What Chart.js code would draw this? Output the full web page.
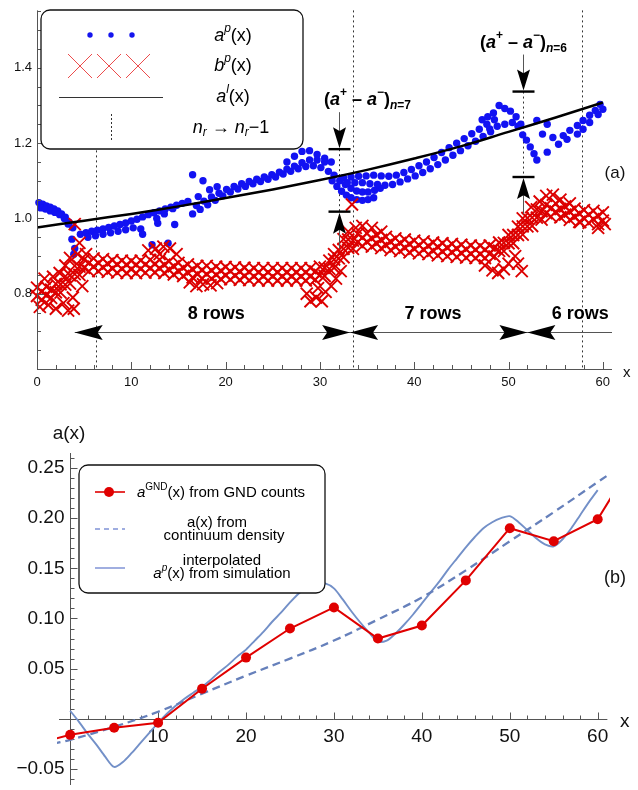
<!DOCTYPE html>
<html>
<head>
<meta charset="utf-8">
<script src="https://cdn.jsdelivr.net/npm/chart.js@4.4.1/dist/chart.umd.min.js"></script>
<style>
  html, body { margin: 0; padding: 0; background: #fff; }
  .panel { position: absolute; left: 0; width: 638px; height: 395px; }
  #wrapA { top: 0; }
  #wrapB { top: 395px; }
</style>
</head>
<body>
<div class="panel" id="wrapA"><canvas id="chartA" width="638" height="395"></canvas></div>
<div class="panel" id="wrapB"><canvas id="chartB" width="638" height="395"></canvas></div>
<script>
// ---------- Panel (a) data ----------
// a^l(x) curve
const alX = [0, 5, 10, 15, 20, 25, 30, 35, 40, 45, 50, 55, 60];
const alY = [0.976, 0.994, 1.012, 1.032, 1.054, 1.077, 1.102, 1.129, 1.159, 1.192, 1.23, 1.268, 1.308];

// a^p(x) blue dots, by branch
const apLeftX = [0.2, 0.6, 1.0, 1.4, 1.8, 2.2, 2.6, 3.0, 3.4, 3.8, 0.4, 0.9, 1.4, 1.9, 2.4, 2.9, 3.3, 3.7, 4.0, 3.9];
const apLeftY = [1.042, 1.038, 1.033, 1.03, 1.025, 1.02, 1.012, 1.003, 0.99, 0.975, 1.028, 1.025, 1.02, 1.016, 1.01, 1.0, 0.985, 0.945, 0.92, 0.905];
const apLowX = [4.6, 5.2, 5.8, 6.4, 7.0, 7.6, 8.2, 8.8, 9.4, 10.0, 10.6, 11.2, 11.8, 12.4, 13.0, 13.6, 14.2, 14.8, 15.4, 16.0,
  5.4, 6.2, 7.0, 7.8, 8.6, 9.4, 10.2, 11.0, 11.2, 12.2, 12.8, 13.9, 14.6, 12.7, 13.5, 14.4, 16.5, 17.6, 18.3, 19.1, 17.1];
const apLowY = [0.958, 0.962, 0.966, 0.969, 0.972, 0.976, 0.98, 0.984, 0.988, 0.993, 0.998, 1.004, 1.01, 1.015, 1.02, 1.025, 1.03, 1.035, 1.04, 1.045,
  0.95, 0.954, 0.958, 0.962, 0.966, 0.97, 0.975, 0.972, 0.958, 0.93, 0.987, 0.934, 0.984, 1.0, 1.012, 1.026, 1.116, 1.10, 1.076, 1.084, 1.058];
const apMidX = [16.5, 17.3, 18.1, 18.9, 19.7, 20.5, 21.3, 22.1, 22.9, 23.7, 24.5, 25.3, 26.1, 26.9, 27.7, 28.5, 29.3, 30.1, 30.9,
  16.9, 17.7, 18.5, 19.3, 20.1, 20.9, 21.7, 22.5, 23.3, 24.1, 24.9, 25.7, 26.5, 27.3, 28.1, 28.9, 29.7, 30.5,
  26.5, 27.3, 28.1, 28.9, 29.7, 30.5, 31.2];
const apMidY = [1.012, 1.024, 1.036, 1.048, 1.06, 1.07, 1.078, 1.085, 1.092, 1.098, 1.104, 1.11, 1.118, 1.125, 1.132, 1.138, 1.14, 1.135, 1.125,
  1.034, 1.046, 1.057, 1.067, 1.077, 1.085, 1.092, 1.098, 1.104, 1.11, 1.116, 1.123, 1.131, 1.139, 1.148, 1.155, 1.155, 1.15,
  1.15, 1.165, 1.178, 1.18, 1.17, 1.16, 1.15];
const apFanX = [31.3, 31.8, 32.3, 32.8, 33.3, 33.9, 34.5, 35.1, 35.7, 31.5, 32.1, 32.7, 33.3, 33.9, 34.5, 35.1, 35.8, 36.4];
const apFanY = [1.10, 1.085, 1.072, 1.062, 1.055, 1.05, 1.048, 1.05, 1.055, 1.115, 1.10, 1.09, 1.08, 1.073, 1.07, 1.07, 1.075, 1.08];
const apHighX = [32.5, 33.3, 34.1, 34.9, 35.7, 36.5, 37.3, 38.1, 38.9, 39.7, 40.5, 41.3, 42.1, 42.9, 43.7, 44.5, 45.3, 46.1, 46.9, 47.7, 48.5,
  32.9, 33.7, 34.5, 35.3, 36.1, 36.9, 37.7, 38.5, 39.3, 40.1, 40.9, 41.7, 42.5, 43.3, 44.1, 44.9, 45.7, 46.5, 47.3, 48.1];
const apHighY = [1.108, 1.11, 1.112, 1.113, 1.115, 1.113, 1.112, 1.115, 1.122, 1.13, 1.14, 1.15, 1.162, 1.175, 1.188, 1.2, 1.212, 1.225, 1.237, 1.25, 1.262,
  1.095, 1.095, 1.095, 1.092, 1.09, 1.088, 1.09, 1.097, 1.105, 1.113, 1.122, 1.132, 1.143, 1.155, 1.168, 1.18, 1.193, 1.205, 1.218, 1.23];
const apTopX = [47.2, 47.8, 48.4, 49.0, 49.6, 50.2, 50.8, 51.3, 48.0, 48.8, 49.6, 50.4, 51.0];
const apTopY = [1.262, 1.27, 1.28, 1.30, 1.292, 1.285, 1.27, 1.25, 1.238, 1.245, 1.25, 1.255, 1.245];
const apRightX = [51.5, 51.9, 52.3, 52.7, 53.0, 54.1, 53.0, 54.1, 53.6, 54.7, 55.3, 55.8, 56.2, 56.5, 57.3, 57.3, 57.9, 57.9, 58.6, 58.6, 59.2, 59.5, 59.7, 60.0];
const apRightY = [1.222, 1.208, 1.19, 1.172, 1.155, 1.176, 1.26, 1.25, 1.224, 1.215, 1.197, 1.22, 1.21, 1.234, 1.247, 1.224, 1.26, 1.237, 1.274, 1.255, 1.287, 1.276, 1.303, 1.29];

// b^p(x) red crosses, four rows plus stray crosses
const bIntX = [0,1,2,3,4,5,6,7,8,9,10,11,12,13,14,15,16,17,18,19,20,21,22,23,24,25,26,27,28,29,30,
  31,32,33,34,35,36,37,38,39,40,41,42,43,44,45,46,47,48,49,50,51,52,53,54,55,56,57,58,59,60];
const bHalfX = [0.5,1.5,2.5,3.5,4.5,5.5,6.5,7.5,8.5,9.5,10.5,11.5,12.5,13.5,14.5,15.5,16.5,17.5,18.5,19.5,20.5,21.5,22.5,23.5,24.5,25.5,26.5,27.5,28.5,29.5,
  30.5,31.5,32.5,33.5,34.5,35.5,36.5,37.5,38.5,39.5,40.5,41.5,42.5,43.5,44.5,45.5,46.5,47.5,48.5,49.5,50.5,51.5,52.5,53.5,54.5,55.5,56.5,57.5,58.5,59.5];
const bTopY = [0.816,0.818,0.826,0.846,0.874,0.891,0.894,0.892,0.889,0.888,0.887,0.888,0.890,0.890,0.886,0.882,0.878,0.874,0.874,0.872,0.871,
  0.870,0.869,0.868,0.868,0.868,0.868,0.868,0.868,0.868,0.872,0.888,0.916,0.944,0.959,0.960,0.956,0.951,0.947,0.944,0.941,
  0.939,0.936,0.934,0.932,0.930,0.928,0.927,0.928,0.936,0.956,0.978,1.001,1.024,1.036,1.040,1.032,1.026,1.022,1.020,1.016];
const bUpY = [0.806,0.811,0.825,0.849,0.872,0.882,0.882,0.880,0.878,0.877,0.877,0.878,0.879,0.877,0.873,0.869,0.865,0.863,0.862,0.861,
  0.860,0.859,0.858,0.857,0.857,0.857,0.857,0.857,0.857,0.859,0.869,0.891,0.919,0.941,0.949,0.947,0.943,0.938,0.935,0.932,
  0.929,0.927,0.924,0.922,0.920,0.918,0.917,0.917,0.921,0.935,0.956,0.979,1.002,1.019,1.027,1.025,1.018,1.013,1.010,1.007];
const bLowY = [0.794,0.796,0.804,0.824,0.852,0.869,0.872,0.870,0.867,0.866,0.865,0.866,0.868,0.868,0.864,0.860,0.856,0.852,0.852,0.850,0.849,
  0.848,0.847,0.846,0.846,0.846,0.846,0.846,0.846,0.846,0.850,0.866,0.894,0.922,0.937,0.938,0.934,0.929,0.925,0.922,0.919,
  0.917,0.914,0.912,0.910,0.908,0.906,0.905,0.906,0.914,0.934,0.956,0.979,1.002,1.014,1.018,1.010,1.004,1.000,0.998,0.994];
const bBotY = [0.784,0.789,0.803,0.827,0.850,0.860,0.860,0.858,0.856,0.855,0.855,0.856,0.857,0.855,0.851,0.847,0.843,0.841,0.840,0.839,
  0.838,0.837,0.836,0.835,0.835,0.835,0.835,0.835,0.835,0.837,0.847,0.869,0.897,0.919,0.927,0.925,0.921,0.916,0.913,0.910,
  0.907,0.905,0.902,0.900,0.898,0.896,0.895,0.895,0.899,0.913,0.934,0.957,0.980,0.997,1.005,1.003,0.996,0.991,0.988,0.985];
const bStrayX = [0.3,0.8,1.2,1.7,2.0,2.4,2.8,3.0,3.3,3.5,3.8,3.9,4.0,4.3,4.5,4.8,5.2, 11.8,12.6,13.4,14.1,14.8,13.0,
  16.2,16.9,17.6,18.4,19.1, 28.6,29.0,29.6,30.2,30.6,31.2,31.7,32.2,29.8, 31.5,32.5,33.0,33.4,33.8,34.5,35.5,36.5,
  47.5,48.3,48.9,49.5,50.0,50.7,51.4,51.0, 51.5,52.4,53.3,54.0,54.7,55.5,56.5,57.6,59.5,60.2];
const bStrayY = [0.765,0.84,0.77,0.845,0.76,0.855,0.775,0.875,0.755,0.895,0.79,0.76,0.985,0.905,0.935,0.82,0.905, 0.915,0.92,0.925,0.92,0.905,0.905,
  0.83,0.82,0.825,0.822,0.828, 0.80,0.78,0.79,0.78,0.805,0.82,0.84,0.86,0.815, 0.905,0.945,0.965,1.037,0.975,0.98,0.975,0.965,
  0.875,0.862,0.855,0.865,0.88,0.90,0.86,0.88, 1.0,1.03,1.045,1.06,1.063,1.05,1.04,0.99,0.975,0.985];

// annotations of panel (a)
const rowChangeX = [6.3, 33.5, 57.8];
const rowArrowY = 0.697;
const rowSegStart = [4.0, 33.2, 52.0];
const rowSegEnd = [33.2, 52.0, 61.0];
const rowLabels = ['8 rows', '7 rows', '6 rows'];
const rowLabelX = [19.0, 42.0, 57.6];
const gapX = [32.0, 51.5];
const gapTop = [1.184, 1.337];
const gapBottom = [1.018, 1.11];
const gapN = ['7', '6'];
const aXTicks = [0, 10, 20, 30, 40, 50, 60];
const aYTicks = [0.8, 1.0, 1.2, 1.4];

// ---------- Panel (b) data ----------
const gndX = [-5, 0, 5, 10, 15, 20, 25, 30, 35, 40, 45, 50, 55, 60, 65];
const gndY = [-0.027, -0.016, -0.009, -0.004, 0.030, 0.061, 0.090, 0.111, 0.080, 0.093, 0.138, 0.190, 0.177, 0.199, 0.27];
const contX = [-2, 0, 5, 10, 15, 20, 25, 30, 35, 40, 45, 50, 55, 60, 62];
const contY = [-0.025, -0.021, -0.008, 0.007, 0.025, 0.043, 0.060, 0.078, 0.099, 0.121, 0.148, 0.177, 0.206, 0.236, 0.248];
const simX = [0,1,2,3,4,5,6,7,8,9,10,11,12,13,14,15,16,17,18,19,20,21,22,23,24,25,26,27,28,29,30,
  31,32,33,34,35,36,37,38,39,40,41,42,43,44,45,46,47,48,49,50,51,52,53,54,55,56,57,58,59,60];
const simY = [0.008,-0.003,-0.015,-0.026,-0.038,-0.048,-0.043,-0.034,-0.024,-0.014,-0.004,0.005,0.013,0.020,0.026,0.032,
  0.039,0.047,0.054,0.062,0.069,0.078,0.087,0.097,0.106,0.116,0.125,0.131,0.135,0.135,0.130,
  0.119,0.107,0.096,0.086,0.077,0.078,0.085,0.094,0.104,0.115,0.126,0.137,0.149,0.160,0.171,
  0.181,0.190,0.196,0.200,0.202,0.196,0.188,0.180,0.174,0.172,0.179,0.190,0.203,0.216,0.228];
const bXTicks = [10, 20, 30, 40, 50, 60];
const bYTicks = [-0.05, 0.05, 0.10, 0.15, 0.20, 0.25];

// ---------- helpers ----------
const FONT = '"Liberation Sans", Arial, Helvetica, sans-serif';
const f = (style, size) => `${style} ${size}px ${FONT}`;

function pairs(xs, ys) { return xs.map((x, i) => ({ x, y: ys[i] })); }

function line(ctx, x1, y1, x2, y2) {
  ctx.beginPath(); ctx.moveTo(x1, y1); ctx.lineTo(x2, y2); ctx.stroke();
}

// parts: [text, font, dy]
function rich(ctx, parts, x, y, align) {
  let w = 0;
  parts.forEach(p => { ctx.font = p[1]; w += ctx.measureText(p[0]).width; });
  let cx = align === 'center' ? x - w / 2 : align === 'right' ? x - w : x;
  ctx.textAlign = 'left'; ctx.textBaseline = 'middle';
  parts.forEach(p => { ctx.font = p[1]; ctx.fillText(p[0], cx, y + (p[2] || 0)); cx += ctx.measureText(p[0]).width; });
}

// swept arrow head, tip at (tx,ty), pointing along (dx,dy)
function head(ctx, tx, ty, dx, dy, len, half) {
  const bx = tx - dx * len, by = ty - dy * len;
  ctx.beginPath();
  ctx.moveTo(tx, ty);
  ctx.lineTo(bx - dy * half, by + dx * half);
  ctx.lineTo(tx - dx * len * 0.82, ty - dy * len * 0.82);
  ctx.lineTo(bx + dy * half, by - dx * half);
  ctx.closePath(); ctx.fill();
}

function roundBox(ctx, x, y, w, h, r) {
  ctx.beginPath();
  ctx.roundRect(x, y, w, h, r);
  ctx.fillStyle = '#fff'; ctx.fill();
  ctx.strokeStyle = '#111'; ctx.lineWidth = 1.3; ctx.stroke();
}

// ---------- panel (a) drawing ----------
const panelA = {
  id: 'panelA',
  beforeDatasetsDraw(chart) {
    const { ctx, chartArea: ca, scales: { x, y } } = chart;
    ctx.save();
    ctx.strokeStyle = '#333'; ctx.lineWidth = 1; ctx.setLineDash([2, 3]);
    rowChangeX.forEach(v => {
      const px = Math.round(x.getPixelForValue(v)) + 0.5;
      line(ctx, px, ca.top, px, ca.bottom);
    });
    gapX.forEach((v, i) => {
      const px = Math.round(x.getPixelForValue(v)) + 0.5;
      line(ctx, px, y.getPixelForValue(gapTop[i]), px, y.getPixelForValue(gapBottom[i]));
    });
    ctx.restore();
  },
  afterDatasetsDraw(chart) {
    const { ctx, chartArea: ca, scales: { x, y } } = chart;
    ctx.save();
    // axes
    ctx.strokeStyle = '#555'; ctx.lineWidth = 1;
    line(ctx, ca.left + 0.5, ca.top, ca.left + 0.5, ca.bottom);
    line(ctx, ca.left, ca.bottom + 0.5, ca.right, ca.bottom + 0.5);
    for (let k = 12; k <= 31; k++) {
      const py = Math.round(y.getPixelForValue(k * 0.05)) + 0.5;
      line(ctx, ca.left, py, ca.left + (k % 4 === 0 ? 7 : 4), py);
    }
    for (let k = 0; k <= 60; k += 2) {
      const px = Math.round(x.getPixelForValue(k)) + 0.5;
      line(ctx, px, ca.bottom, px, ca.bottom - (k % 10 === 0 ? 7 : 4));
    }
    ctx.fillStyle = '#111'; ctx.font = f('', 13);
    ctx.textAlign = 'right'; ctx.textBaseline = 'middle';
    aYTicks.forEach(v => ctx.fillText(v.toFixed(1), ca.left - 5, y.getPixelForValue(v)));
    ctx.textAlign = 'center'; ctx.textBaseline = 'top';
    aXTicks.forEach(v => ctx.fillText(String(v), x.getPixelForValue(v), ca.bottom + 7));
    ctx.font = f('', 15); ctx.textAlign = 'left'; ctx.textBaseline = 'middle';
    ctx.fillText('x', ca.right + 11, ca.bottom + 4);

    // row arrows
    const ay = Math.round(y.getPixelForValue(rowArrowY)) + 0.5;
    ctx.strokeStyle = '#555';
    line(ctx, x.getPixelForValue(rowSegStart[0]), ay, ca.right, ay);
    ctx.fillStyle = '#000';
    rowSegStart.forEach((s, i) => {
      head(ctx, x.getPixelForValue(s), ay, -1, 0, 28, 7.5);
      if (i < rowSegStart.length - 1) head(ctx, x.getPixelForValue(rowSegEnd[i]), ay, 1, 0, 28, 7.5);
      ctx.font = f('bold', 18); ctx.textAlign = 'center'; ctx.textBaseline = 'middle';
      ctx.fillText(rowLabels[i], x.getPixelForValue(rowLabelX[i]), ay - 18);
    });

    // a+ - a- gap markers
    const labelDx = [28, 0];
    gapX.forEach((g, i) => {
      const px = Math.round(x.getPixelForValue(g)) + 0.5;
      const pt = y.getPixelForValue(gapTop[i]), pb = y.getPixelForValue(gapBottom[i]);
      ctx.strokeStyle = '#555'; ctx.lineWidth = 1;
      line(ctx, px, pt - 37, px, pt - 10);
      line(ctx, px, pb + 10, px, pb + 37);
      ctx.strokeStyle = '#000'; ctx.lineWidth = 2.4;
      line(ctx, px - 11, pt, px + 11, pt);
      line(ctx, px - 11, pb, px + 11, pb);
      ctx.fillStyle = '#000';
      head(ctx, px, pt - 1, 0, 1, 21, 6.5);
      head(ctx, px, pb + 1, 0, -1, 21, 6.5);
      rich(ctx, [
        ['(', f('bold', 18)], ['a', f('bold italic', 18)], ['+', f('bold', 12), -7],
        [' \u2013 ', f('bold', 18)], ['a', f('bold italic', 18)], ['\u2212', f('bold', 12), -7],
        [')', f('bold', 18)], ['n', f('bold italic', 12), 6], ['=' + gapN[i], f('bold', 12), 6]
      ], px + labelDx[i], pt - 49, 'center');
    });

    ctx.fillStyle = '#111';
    ctx.font = f('', 17); ctx.textAlign = 'center'; ctx.textBaseline = 'middle';
    ctx.fillText('(a)', 615, 173);

    // legend
    roundBox(ctx, 41, 10, 262, 139, 9);
    ctx.fillStyle = '#1515ee';
    [90, 111, 132].forEach(cx => { ctx.beginPath(); ctx.arc(cx, 35, 2.7, 0, Math.PI * 2); ctx.fill(); });
    ctx.strokeStyle = '#ec4b4b'; ctx.lineWidth = 1;
    [80, 109, 138].forEach(cx => {
      line(ctx, cx - 12, 54, cx + 12, 78);
      line(ctx, cx - 12, 78, cx + 12, 54);
    });
    ctx.strokeStyle = '#333'; ctx.lineWidth = 1;
    line(ctx, 59, 97.5, 163, 97.5);
    ctx.setLineDash([2, 2]);
    line(ctx, 111.5, 114, 111.5, 140);
    ctx.setLineDash([]);
    ctx.fillStyle = '#000';
    rich(ctx, [['a', f('italic', 18)], ['p', f('italic', 12), -7], ['(x)', f('', 18)]], 233, 36, 'center');
    rich(ctx, [['b', f('italic', 18)], ['p', f('italic', 12), -7], ['(x)', f('', 18)]], 233, 66, 'center');
    rich(ctx, [['a', f('italic', 18)], ['l', f('italic', 12), -7], ['(x)', f('', 18)]], 233, 97, 'center');
    rich(ctx, [['n', f('italic', 18)], ['r', f('italic', 12), 5], [' \u2192 ', f('', 18)],
      ['n', f('italic', 18)], ['r', f('italic', 12), 5], ['\u22121', f('', 18)]], 231, 128, 'center');
    ctx.restore();
  }
};

new Chart(document.getElementById('chartA'), {
  type: 'scatter',
  data: {
    datasets: [
      { type: 'line', data: pairs(alX, alY), borderColor: '#000', borderWidth: 2.5, pointRadius: 0, tension: 0.4, fill: false },
      { data: [].concat(pairs(bIntX, bTopY), pairs(bHalfX, bUpY), pairs(bIntX, bLowY), pairs(bHalfX, bBotY), pairs(bStrayX, bStrayY)),
        pointStyle: 'crossRot', pointRadius: 8.5, borderColor: '#dc0000', borderWidth: 1.9, backgroundColor: '#dc0000', clip: 12 },
      { data: [].concat(pairs(apLeftX, apLeftY), pairs(apLowX, apLowY), pairs(apMidX, apMidY), pairs(apFanX, apFanY),
          pairs(apHighX, apHighY), pairs(apTopX, apTopY), pairs(apRightX, apRightY)),
        pointStyle: 'circle', pointRadius: 3.7, backgroundColor: '#1212f2', borderWidth: 0, clip: 12 }
    ]
  },
  options: {
    responsive: false, animation: false, devicePixelRatio: 1, events: [],
    layout: { padding: { left: 37, top: 7, right: 26, bottom: 26 } },
    plugins: { legend: { display: false }, tooltip: { enabled: false } },
    scales: {
      x: { type: 'linear', display: false, min: 0, max: 60.97 },
      y: { type: 'linear', display: false, min: 0.6, max: 1.5526 }
    }
  },
  plugins: [panelA]
});

// ---------- panel (b) drawing ----------
const panelB = {
  id: 'panelB',
  beforeDatasetsDraw(chart) {
    const { ctx, chartArea: ca, scales: { x, y } } = chart;
    const x0 = Math.round(x.getPixelForValue(0)) + 0.5, y0 = Math.round(y.getPixelForValue(0)) + 0.5;
    ctx.save();
    ctx.strokeStyle = '#555'; ctx.lineWidth = 1;
    line(ctx, x0, ca.top, x0, ca.bottom);
    line(ctx, ca.left + 2, y0, x.getPixelForValue(61.1), y0);
    for (let k = -6; k <= 26; k++) {
      if (k === 0) continue;
      const py = Math.round(y.getPixelForValue(k / 100)) + 0.5;
      line(ctx, x0, py, x0 + (k % 5 === 0 ? 7 : 4), py);
    }
    for (let k = 2; k <= 60; k += 2) {
      const px = Math.round(x.getPixelForValue(k)) + 0.5;
      line(ctx, px, y0, px, y0 - (k % 10 === 0 ? 7 : 4));
    }
    ctx.fillStyle = '#111'; ctx.font = f('', 19);
    ctx.textAlign = 'right'; ctx.textBaseline = 'middle';
    bYTicks.forEach(v => ctx.fillText(v.toFixed(2).replace('-', '\u2212'), x0 - 6, y.getPixelForValue(v)));
    ctx.textAlign = 'center'; ctx.textBaseline = 'top';
    bXTicks.forEach(v => ctx.fillText(String(v), x.getPixelForValue(v), y0 + 8));
    ctx.textBaseline = 'middle';
    ctx.fillText('a(x)', 69, 39);
    ctx.textAlign = 'left';
    ctx.fillText('x', 620, y0 + 2);
    ctx.restore();
  },
  afterDatasetsDraw(chart) {
    const { ctx } = chart;
    ctx.save();
    ctx.fillStyle = '#111'; ctx.font = f('', 18); ctx.textAlign = 'center'; ctx.textBaseline = 'middle';
    ctx.fillText('(b)', 615, 183);
    roundBox(ctx, 79, 70, 246, 128, 9);
    ctx.strokeStyle = '#e00000'; ctx.lineWidth = 1.6;
    line(ctx, 95, 97, 125, 97);
    ctx.fillStyle = '#e00000';
    ctx.beginPath(); ctx.arc(109, 97, 5, 0, Math.PI * 2); ctx.fill();
    ctx.strokeStyle = '#8093d6'; ctx.lineWidth = 1.5;
    ctx.setLineDash([5, 4]);
    line(ctx, 95, 134, 125, 134);
    ctx.setLineDash([]);
    line(ctx, 95, 173, 125, 173);
    ctx.fillStyle = '#000';
    rich(ctx, [['a', f('italic', 15)], ['GND', f('', 10), -6], ['(x) from GND counts', f('', 15)]], 137, 98, 'left');
    rich(ctx, [['a(x) from', f('', 15)]], 217, 128, 'center');
    rich(ctx, [['continuum density', f('', 15)]], 224, 141, 'center');
    rich(ctx, [['interpolated', f('', 15)]], 222, 166, 'center');
    rich(ctx, [['a', f('italic', 15)], ['p', f('italic', 10), -6], ['(x) from simulation', f('', 15)]], 222, 179, 'center');
    ctx.restore();
  }
};

new Chart(document.getElementById('chartB'), {
  type: 'line',
  data: {
    datasets: [
      { data: pairs(gndX, gndY), borderColor: '#e00000', borderWidth: 2, backgroundColor: '#e00000',
        pointRadius: 5, pointBorderWidth: 0, pointBackgroundColor: '#e00000', tension: 0 },
      { data: pairs(contX, contY), borderColor: '#6680bb', borderWidth: 2.3, borderDash: [8, 5], pointRadius: 0, tension: 0.4 },
      { data: pairs(simX, simY), borderColor: '#7390c8', borderWidth: 1.9, pointRadius: 0, tension: 0.3 }
    ]
  },
  options: {
    responsive: false, animation: false, devicePixelRatio: 1, events: [],
    layout: { padding: { left: 57, top: 58, right: 28, bottom: 0 } },
    plugins: { legend: { display: false }, tooltip: { enabled: false } },
    scales: {
      x: { type: 'linear', display: false, min: -1.5, max: 61.4 },
      y: { type: 'linear', display: false, min: -0.066, max: 0.265 }
    }
  },
  plugins: [panelB]
});
</script>
</body>
</html>
